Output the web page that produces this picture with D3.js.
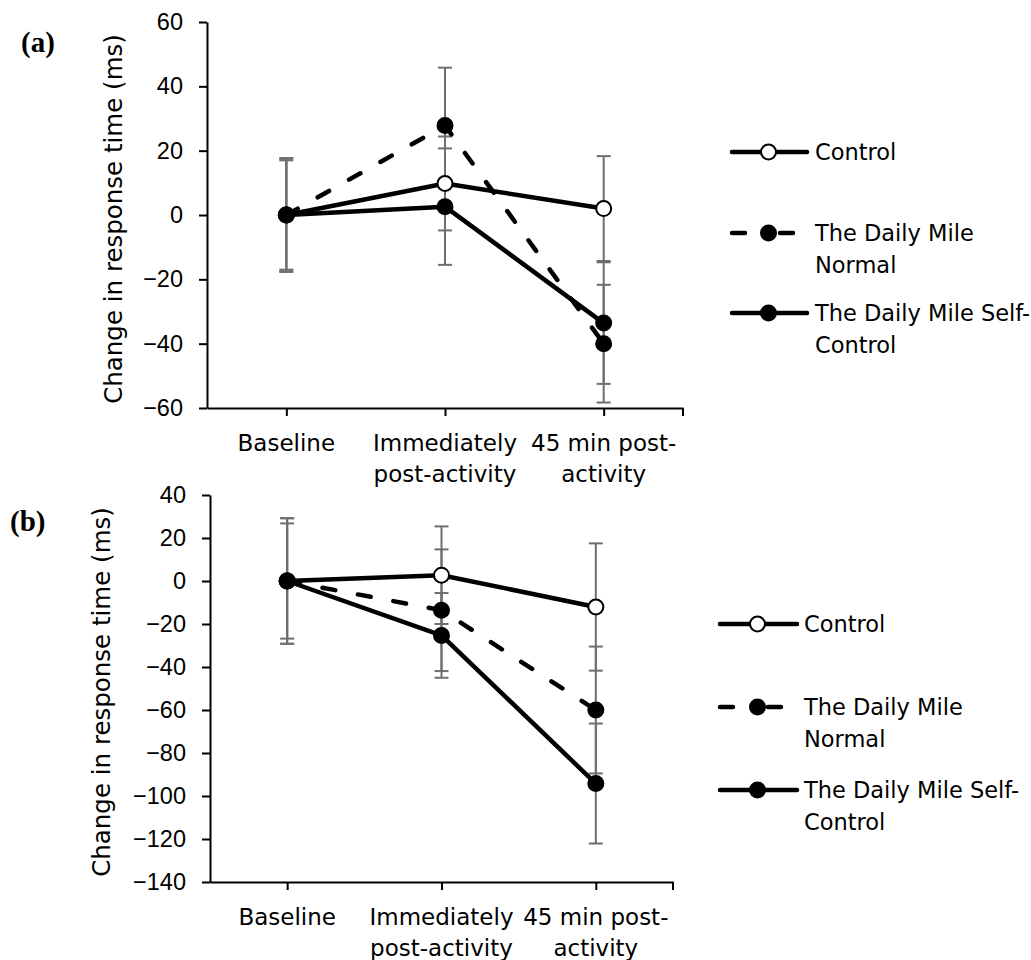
<!DOCTYPE html>
<html><head><meta charset="utf-8">
<script src="https://cdn.jsdelivr.net/npm/d3@7"></script>
<style>body{margin:0;background:#fff}</style>
</head><body>
<svg id="chart" width="1031" height="960"></svg>
<script>
// ---------- DATA ----------
const categories = ["Baseline", "Immediately post-activity", "45 min post-activity"];
const categoryLines = [["Baseline"], ["Immediately", "post-activity"], ["45 min post-", "activity"]];
const seriesNames = ["Control", "The Daily Mile Normal", "The Daily Mile Self-Control"];
const legendLines = [["Control"], ["The Daily Mile", "Normal"], ["The Daily Mile Self-", "Control"]];
const yTitle = "Change in response time (ms)";

// Panel (a)
const aControl = [0, 9.8, 2.0];
const aControlErr = [17.0, 14.6, 16.3];
const aNormal = [0, 27.8, -40.0];
const aNormalErr = [17.7, 18.0, 18.3];
const aSelf = [0, 2.6, -33.6];
const aSelfErr = [17.5, 18.1, 18.9];
const aTicks = [-60, -40, -20, 0, 20, 40, 60];

// Panel (b)
const bControl = [0, 2.7, -12.1];
const bControlErr = [26.8, 22.7, 29.6];
const bNormal = [0, -13.6, -60.0];
const bNormalErr = [29.2, 28.3, 29.5];
const bSelf = [0, -25.3, -94.2];
const bSelfErr = [29.2, 19.7, 27.9];
const bTicks = [-140, -120, -100, -80, -60, -40, -20, 0, 20, 40];

// ---------- DRAWING ----------
const svg = d3.select("#chart");
const SANS = "'DejaVu Sans', sans-serif";
const ARIAL = "'Liberation Sans', Arial, sans-serif";

function drawPanel(cfg) {
  const g = svg.append("g");
  const x = d3.scalePoint().domain(categories).range([cfg.x0, cfg.x1]).padding(0.5);
  const y = d3.scaleLinear().domain([cfg.ticks[0], cfg.ticks[cfg.ticks.length - 1]]).range([cfg.yBottom, cfg.yTop]);

  // y axis
  const yAxis = d3.axisLeft(y).tickValues(cfg.ticks).tickSizeInner(8).tickSizeOuter(0).tickPadding(16)
    .tickFormat(d => d < 0 ? "\u2212" + Math.abs(d) : String(d));
  const ya = g.append("g").attr("transform", `translate(${cfg.x0},0)`).call(yAxis);
  ya.attr("font-size", null).attr("font-family", null);
  ya.select(".domain").attr("stroke", "#000").attr("stroke-width", 2);
  ya.selectAll(".tick line").attr("stroke", "#000").attr("stroke-width", 2);
  ya.selectAll(".tick text").style("font-family", ARIAL).style("font-size", "23.5px").attr("fill", "#000");

  // x axis
  const xAxis = d3.axisBottom(x).tickSizeInner(8).tickSizeOuter(0).tickFormat("");
  const xa = g.append("g").attr("transform", `translate(0,${cfg.yBottom})`).call(xAxis);
  xa.select(".domain").attr("stroke", "#000").attr("stroke-width", 2);
  xa.selectAll(".tick line").attr("stroke", "#000").attr("stroke-width", 2);
  xa.append("line").attr("x1", cfg.x1).attr("x2", cfg.x1).attr("y1", 0).attr("y2", 8)
    .attr("stroke", "#000").attr("stroke-width", 2);

  // category labels
  categories.forEach((c, i) => {
    const t = g.append("text").attr("text-anchor", "middle").attr("font-family", SANS)
      .attr("font-size", 23).attr("fill", "#000");
    categoryLines[i].forEach((ln, j) => {
      t.append("tspan").attr("x", x(c)).attr("y", cfg.yBottom + 43 + j * 31).text(ln);
    });
  });

  // y title
  g.append("text").attr("transform", `translate(${cfg.titleX},${cfg.titleY}) rotate(-90)`)
    .attr("text-anchor", "middle").attr("font-family", SANS).attr("font-size", 24.5)
    .attr("fill", "#000").text(yTitle);

  // panel letter
  g.append("text").attr("x", cfg.letterX).attr("y", cfg.letterY)
    .attr("font-family", "'Liberation Serif', 'Times New Roman', serif").attr("font-weight", "bold")
    .attr("font-size", 29).attr("fill", "#000").text(cfg.letter);

  const series = [
    {name: seriesNames[0], vals: cfg.data[0], errs: cfg.errs[0], dash: null, fill: "#fff"},
    {name: seriesNames[1], vals: cfg.data[1], errs: cfg.errs[1], dash: "13,23", fill: "#000"},
    {name: seriesNames[2], vals: cfg.data[2], errs: cfg.errs[2], dash: null, fill: "#000"}
  ];

  // error bars
  const eb = g.append("g").attr("stroke", "#6e6e6e").attr("stroke-width", 2);
  series.forEach(s => {
    categories.forEach((c, i) => {
      const cx = x(c), lo = y(s.vals[i] - s.errs[i]), hi = y(s.vals[i] + s.errs[i]);
      eb.append("line").attr("x1", cx).attr("x2", cx).attr("y1", lo).attr("y2", hi);
      eb.append("line").attr("x1", cx - 7).attr("x2", cx + 7).attr("y1", lo).attr("y2", lo);
      eb.append("line").attr("x1", cx - 7).attr("x2", cx + 7).attr("y1", hi).attr("y2", hi);
    });
  });

  // lines
  const line = d3.line().x((d, i) => x(categories[i])).y(d => y(d));
  series.forEach(s => {
    g.append("path").attr("d", line(s.vals)).attr("fill", "none").attr("stroke", "#000")
      .attr("stroke-width", 4.5).attr("stroke-linejoin", "round")
      .attr("stroke-linecap", "round")
      .attr("stroke-dasharray", s.dash);
  });
  // markers
  series.forEach(s => {
    g.selectAll(null).data(s.vals).enter().append("circle")
      .attr("cx", (d, i) => x(categories[i])).attr("cy", d => y(d)).attr("r", 7.5)
      .attr("fill", s.fill).attr("stroke", "#000").attr("stroke-width", 2);
  });

  // legend
  series.forEach((s, i) => {
    const ly = cfg.legendY[i];
    g.append("line").attr("x1", cfg.legX0 + 2).attr("x2", cfg.legX1).attr("y1", ly).attr("y2", ly)
      .attr("stroke", "#000").attr("stroke-width", 4.5).attr("stroke-linecap", "round")
      .attr("stroke-dasharray", s.dash ? "13,23,0,12" : null);
    g.append("circle").attr("cx", (cfg.legX0 + cfg.legX1) / 2).attr("cy", ly).attr("r", 7.5)
      .attr("fill", s.fill).attr("stroke", "#000").attr("stroke-width", 2);
    const t = g.append("text").attr("font-family", SANS).attr("font-size", 22.5).attr("fill", "#000");
    legendLines[i].forEach((ln, j) => {
      t.append("tspan").attr("x", cfg.legText).attr("y", ly + 7.5 + j * 32).text(ln);
    });
  });
}

drawPanel({
  letter: "(a)", letterX: 21, letterY: 52,
  x0: 207, x1: 683, yTop: 22, yBottom: 408, ticks: aTicks,
  titleX: 122, titleY: 219,
  data: [aControl, aNormal, aSelf], errs: [aControlErr, aNormalErr, aSelfErr],
  legendY: [152, 233, 313], legX0: 730, legX1: 807, legText: 815
});
drawPanel({
  letter: "(b)", letterX: 10, letterY: 531,
  x0: 210, x1: 673, yTop: 495, yBottom: 882, ticks: bTicks,
  titleX: 110, titleY: 692,
  data: [bControl, bNormal, bSelf], errs: [bControlErr, bNormalErr, bSelfErr],
  legendY: [624, 707, 790], legX0: 718, legX1: 797, legText: 804
});
</script>
</body></html>
